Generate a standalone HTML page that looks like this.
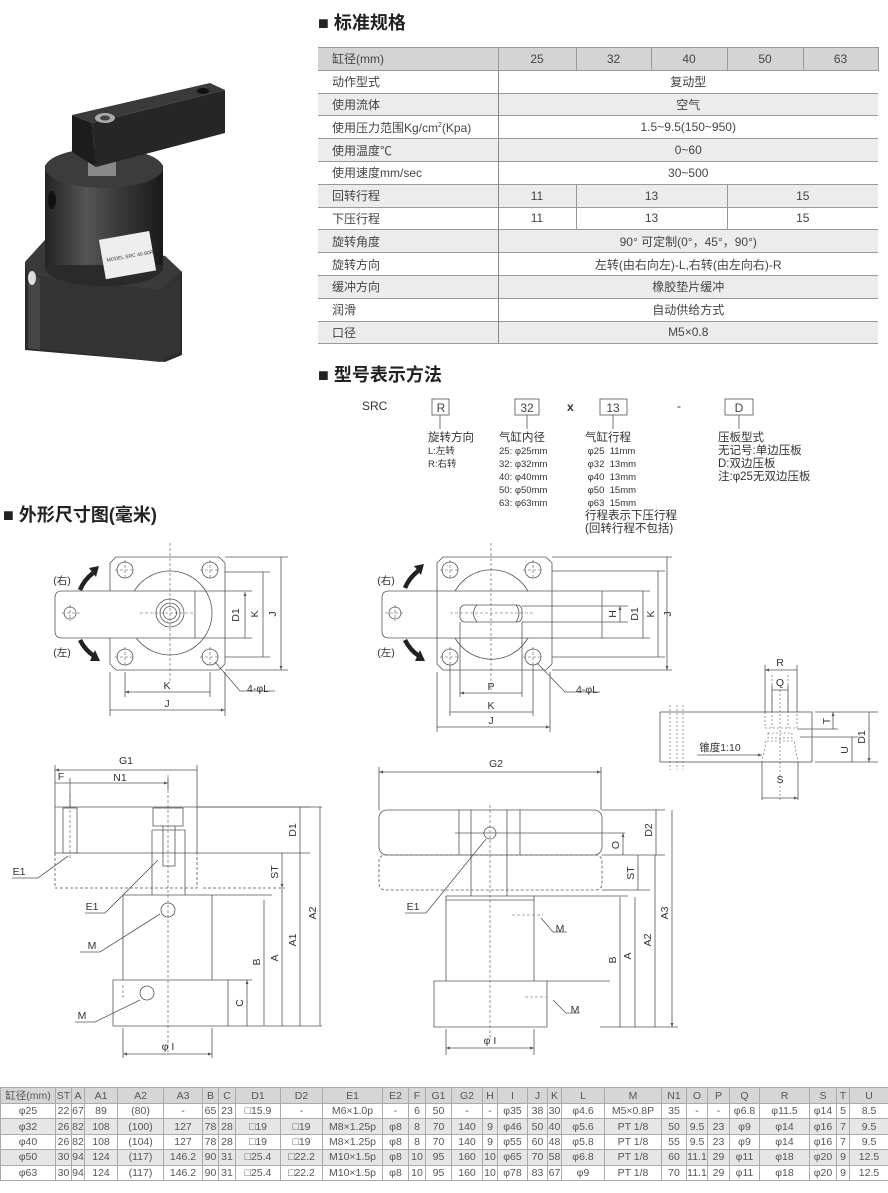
<!DOCTYPE html>
<html><head><meta charset="utf-8">
<style>
body{margin:0;background:#fff;width:888px;height:1193px;position:relative;overflow:hidden;font-family:"Liberation Sans","Noto Sans CJK SC",sans-serif;color:#444}
.h{position:absolute;font-weight:bold;font-size:18px;color:#222;font-family:"Liberation Sans","Noto Sans CJK SC",sans-serif}
table{border-collapse:collapse;position:absolute;table-layout:fixed}
#spec{left:318px;top:47px;width:560px;font-size:12px}
#spec td{height:21.8px;padding:0;border-top:1px solid #999;text-align:center;color:#444;white-space:nowrap}
#spec td.l{text-align:left;padding-left:14px;border-right:1px solid #888}
#spec tr.g td{background:#ececec}
#spec tr.hd td{background:#d4d4d4;border-right:1px solid #999}
#spec tr:last-child td{border-bottom:1px solid #999}
#dim{left:0;top:1087px;width:888px;font-size:10.5px}
#dim td{height:14.4px;padding:0;border:1px solid #aaa;text-align:center;color:#555;white-space:nowrap;overflow:hidden}
#dim tr.g td{background:#e6e6e6}
#dim tr.hd td{background:#d6d6d6}
.m{position:absolute;font-size:9.5px;line-height:13px;color:#333;white-space:nowrap}
.m b{font-weight:normal;font-size:11.5px}
</style></head><body>

<div class="h" style="left:318px;top:9px">■ 标准规格</div>
<div class="h" style="left:318px;top:361px">■ 型号表示方法</div>
<div class="h" style="left:3px;top:501px">■ 外形尺寸图(毫米)</div>

<table id="spec">
<colgroup><col style="width:180px"><col style="width:78px"><col style="width:75px"><col style="width:76px"><col style="width:76px"><col style="width:75px"></colgroup>
<tr class="hd"><td class="l">缸径(mm)</td><td>25</td><td>32</td><td>40</td><td>50</td><td>63</td></tr>
<tr><td class="l">动作型式</td><td colspan="5">复动型</td></tr>
<tr class="g"><td class="l">使用流体</td><td colspan="5">空气</td></tr>
<tr><td class="l">使用压力范围Kg/cm<sup style="font-size:7px">2</sup>(Kpa)</td><td colspan="5">1.5~9.5(150~950)</td></tr>
<tr class="g"><td class="l">使用温度℃</td><td colspan="5">0~60</td></tr>
<tr><td class="l">使用速度mm/sec</td><td colspan="5">30~500</td></tr>
<tr class="g"><td class="l">回转行程</td><td style="border-right:1px solid #999">11</td><td colspan="2" style="border-right:1px solid #999">13</td><td colspan="2">15</td></tr>
<tr><td class="l">下压行程</td><td style="border-right:1px solid #999">11</td><td colspan="2" style="border-right:1px solid #999">13</td><td colspan="2">15</td></tr>
<tr class="g"><td class="l">旋转角度</td><td colspan="5">90° 可定制(0°，45°，90°)</td></tr>
<tr><td class="l">旋转方向</td><td colspan="5">左转(由右向左)-L,右转(由左向右)-R</td></tr>
<tr class="g"><td class="l">缓冲方向</td><td colspan="5">橡胶垫片缓冲</td></tr>
<tr><td class="l">润滑</td><td colspan="5">自动供给方式</td></tr>
<tr class="g"><td class="l">口径</td><td colspan="5">M5×0.8</td></tr>
</table>

<div class="m" style="left:362px;top:400px;font-size:12px">SRC</div>
<div class="m" style="left:567px;top:401px;font-size:12px;font-weight:bold">x</div>
<div class="m" style="left:677px;top:400px;font-size:12px">-</div>
<div class="m" style="left:428px;top:432px"><b>旋转方向</b><br>L:左转<br>R:右转</div>
<div class="m" style="left:499px;top:432px"><b>气缸内径</b><br>25: φ25mm<br>32: φ32mm<br>40: φ40mm<br>50: φ50mm<br>63: φ63mm</div>
<div class="m" style="left:585px;top:432px"><b>气缸行程</b><br>&nbsp;φ25&nbsp; 11mm<br>&nbsp;φ32&nbsp; 13mm<br>&nbsp;φ40&nbsp; 13mm<br>&nbsp;φ50&nbsp; 15mm<br>&nbsp;φ63&nbsp; 15mm<br><b>行程表示下压行程</b><br><b>(回转行程不包括)</b></div>
<div class="m" style="left:718px;top:432px;line-height:13px"><b>压板型式</b><br><b>无记号:单边压板</b><br><b>D:双边压板</b><br><b>注:φ25无双边压板</b></div>

<svg width="888" height="1193" style="position:absolute;left:0;top:0" xmlns="http://www.w3.org/2000/svg" font-family="Liberation Sans, Noto Sans CJK SC, sans-serif">
<defs>
<linearGradient id="cyl" x1="0" x2="1"><stop offset="0" stop-color="#222"/><stop offset=".35" stop-color="#555"/><stop offset=".7" stop-color="#333"/><stop offset="1" stop-color="#1a1a1a"/></linearGradient>
<marker id="a" viewBox="0 0 6 6" refX="6" refY="3" markerWidth="5" markerHeight="5" orient="auto-start-reverse"><path d="M0,0.8L6,3L0,5.2z" fill="#555"/></marker>
</defs>
<g fill="none" stroke="#666" stroke-width="0.9">
<rect x="432" y="399" width="17" height="16"/><rect x="515" y="399" width="24" height="16"/><rect x="600" y="399" width="27" height="16"/><rect x="725" y="399" width="28" height="16"/>
<path d="M440 415V429M527 415V429M613 415V429M739 415V429"/>
</g>
<g font-size="12" fill="#444" text-anchor="middle"><text x="441" y="412">R</text><text x="527" y="412">32</text><text x="613" y="412">13</text><text x="739" y="412">D</text></g>

<g>
<path d="M25 262 L45 240 L165 256 L182 272 L182 355 L165 362 L25 350 Z" fill="#2a2a2a"/>
<path d="M25 262 L45 240 L165 256 L182 272 L160 290 L28 275Z" fill="#3a3a3a"/>
<path d="M28 275 L160 290 L180 272 L180 352 L160 362 L28 348Z" fill="#333"/>
<path d="M28 275 L40 278 L40 350 L28 348Z" fill="#444"/>
<ellipse cx="32" cy="278" rx="4" ry="7" fill="#ddd"/>
<rect x="45" y="165" width="118" height="105" fill="url(#cyl)"/>
<ellipse cx="104" cy="268" rx="59" ry="18" fill="#2a2a2a"/>
<rect x="45" y="165" width="118" height="100" fill="url(#cyl)"/>
<ellipse cx="104" cy="168" rx="59" ry="20" fill="#3c3c3c"/>
<ellipse cx="52" cy="200" rx="4" ry="9" fill="#111"/>
<rect x="102" y="235" width="51" height="40" fill="#eee" transform="rotate(-10 128 255)"/>
<text x="106" y="258" font-size="5" fill="#333" transform="rotate(-10 128 255)">MODEL SRC 40-90R</text>
<rect x="88" y="162" width="28" height="14" fill="#888"/>
<path d="M72 115 L210 83 L225 90 L92 123 Z" fill="#3a3a3a"/>
<path d="M92 123 L225 90 L225 133 L96 167 Z" fill="#262626"/>
<path d="M72 115 L92 123 L96 167 L72 152 Z" fill="#1c1c1c"/>
<ellipse cx="105" cy="118" rx="10" ry="5" fill="#aaa"/><ellipse cx="105" cy="118" rx="5" ry="2.5" fill="#444"/>
<ellipse cx="203" cy="91" rx="6" ry="3" fill="#111"/>
</g>

<g fill="none" stroke="#555" stroke-width="0.8">
<path d="M116 557H219L225 563V664L219 670H116L110 664V563Z"/>
<circle cx="170" cy="613" r="42"/>
<path d="M62 591H195V638H62Q55 638 55 631V598Q55 591 62 591Z" fill="#fff"/>
<circle cx="70" cy="613" r="6"/><circle cx="170" cy="613" r="14"/><circle cx="170" cy="613" r="10"/><circle cx="170" cy="613" r="6.5"/>
<circle cx="125" cy="570" r="8"/><circle cx="210" cy="570" r="8"/><circle cx="125" cy="657" r="8"/><circle cx="210" cy="657" r="8"/>
<g stroke-dasharray="3,2" stroke-width="0.6">
<path d="M170 543V683M140 613H195M62 613H80M70 605V621M115 570H135M125 560V580M200 570H220M210 560V580M115 657H135M125 647V667M200 657H220M210 647V667"/></g>
<path d="M195 591H252M195 638H252M225 572H270M225 657H270M225 557H288M225 670H288"/>
<path d="M245 592V638M263 572V657M281 557V670" marker-start="url(#a)" marker-end="url(#a)"/>
<path d="M110 672V716M125 672V697M210 672V697M225 672V716"/>
<path d="M125 692H210M110 710H225" marker-start="url(#a)" marker-end="url(#a)"/>
<path d="M215 662L240 691H275"/>
<path d="M443 557H546L552 563V664L546 670H443L437 664V563Z"/>
<path d="M455 591A42 42 0 0 1 528 591M455 638A42 42 0 0 0 528 638"/>
<path d="M389 591H602V638H389Q382 638 382 631V598Q382 591 389 591Z"/>
<rect x="460" y="605" width="62" height="17" rx="5"/><path d="M477 605Q470 613 477 622M516 605Q522 613 516 622"/>
<circle cx="395" cy="613" r="6"/>
<circle cx="450" cy="570" r="8"/><circle cx="533" cy="570" r="8"/><circle cx="450" cy="657" r="8"/><circle cx="533" cy="657" r="8"/>
<g stroke-dasharray="3,2" stroke-width="0.6">
<path d="M491 543V690M450 613H535M385 613H405M395 605V621M440 570H460M450 560V580M523 570H543M533 560V580M440 657H460M450 647V667M523 657H543M533 647V667"/></g>
<path d="M522 606H628M522 622H628M602 591H650M602 638H650M552 571H665M552 657H665M552 557H672M552 670H672"/>
<path d="M620 606V622M643 591V638M658 571V657M667 557V670" marker-start="url(#a)" marker-end="url(#a)"/>
<path d="M460 622V697M522 622V697M450 665V716M533 665V716M437 672V732M550 672V732"/>
<path d="M460 693H522M450 712H533M437 727H550" marker-start="url(#a)" marker-end="url(#a)"/>
<path d="M537 663L565 692H600"/>
<rect x="660" y="712" width="152" height="50"/>
<g stroke-dasharray="2,2" stroke-width="0.6"><path d="M670 705V770M677 705V770M683 705V770M772 675V728M788 675V728M780 690V800M765 712V728H797V712M768 733H792V738H768ZM766 741L762 762H798L794 741Z"/></g>
<path d="M765 665V712M797 665V712M772 685V712M788 685V712M762 762V800M798 762V800"/>
<path d="M765 670H797M772 690H788M762 798H798" marker-start="url(#a)" marker-end="url(#a)"/>
<path d="M815 712H878M797 729H838M800 737H858M815 762H878"/>
<path d="M833 712V729M852 737V762M869 712V762" marker-start="url(#a)" marker-end="url(#a)"/>
<path d="M697 755H762" marker-end="url(#a)"/>
<path d="M55 765V807M197 765V807M70 778V807M168 778V790"/>
<path d="M55 770H197M55 783H70M70 783H168" marker-start="url(#a)" marker-end="url(#a)"/>
<path d="M55 807H310M55 807V853M197 807V853M55 853H310"/>
<rect x="63" y="808" width="14" height="45"/>
<g stroke-dasharray="3,2"><path d="M55 853V888H197V853M203 888H285"/></g>
<rect x="153" y="808" width="30" height="18"/><path d="M152 830H185V895M152 830V895M163 826V866H175V826"/>
<path d="M123 895H212V980M123 895V980M113 980H228V1026H113Z"/>
<g stroke-dasharray="3,2" stroke-width="0.6"><path d="M168 775V1052M70 795V860M123 985V1000"/></g>
<circle cx="168" cy="910" r="7"/><circle cx="147" cy="993" r="7"/>
<path d="M212 895H272M228 980H252M228 1026H322M197 807H322"/>
<path d="M247 980V1026M264 900V1026M282 888V1026M300 853V1026M300 807V853M320 807V1026M282 853V888" marker-start="url(#a)" marker-end="url(#a)"/>
<path d="M123 1028V1058M212 1028V1058"/>
<path d="M123 1054H212" marker-start="url(#a)" marker-end="url(#a)"/>
<path d="M12 878H38L68 856M85 913H105L158 860M80 952H100L160 914M75 1022H95L140 1000"/>
<path d="M379 767V810M601 767V810"/>
<path d="M379 772H601" marker-start="url(#a)" marker-end="url(#a)"/>
<rect x="379" y="810" width="223" height="45" rx="8"/>
<path d="M459 810V855M471 810V896M507 810V896M520 810V855M455 833H625"/>
<g stroke-dasharray="3,2"><rect x="379" y="855" width="223" height="35" rx="6"/></g>
<circle cx="490" cy="833" r="6"/>
<path d="M446 896H534V981M446 896V981M446 900H534M434 981H547V1027H434Z"/>
<g stroke-dasharray="3,2" stroke-width="0.6"><path d="M490 805V1040M512 915H543M525 997H547"/></g>
<path d="M602 810H665M602 855H665M534 896H628M547 981H610M600 1027H678M602 890H650"/>
<path d="M623 833V855M656 810V855M638 855V890M620 897V1027M635 897V1027M655 855V1027M672 810V1027" marker-start="url(#a)" marker-end="url(#a)"/>
<path d="M446 1029V1055M534 1029V1055"/>
<path d="M446 1048H534" marker-start="url(#a)" marker-end="url(#a)"/>
<path d="M405 913H426L486 839M541 918L553 932H567M553 1000L566 1013H580"/>
</g>
<g stroke="#222" stroke-width="4.5" fill="none">
<path d="M80 590Q84 580 93 573"/><path d="M80 640Q85 650 94 656"/>
<path d="M405 588Q409 578 418 571"/><path d="M405 640Q410 650 419 656"/>
</g>
<g fill="#222"><path d="M89 568L99 566L96 577Z"/><path d="M90 661L100 661L95 650Z"/><path d="M414 566L424 564L421 575Z"/><path d="M415 661L425 661L420 650Z"/></g>

<g font-size="10.5" fill="#333" text-anchor="middle">
<text x="62" y="584">(右)</text><text x="62" y="656">(左)</text>
<text x="386" y="584">(右)</text><text x="386" y="656">(左)</text>
<text x="167" y="689">K</text><text x="167" y="707">J</text><text x="258" y="692">4-φL</text>
<text x="491" y="690">P</text><text x="491" y="709">K</text><text x="491" y="724">J</text><text x="587" y="693">4-φL</text>
<text x="780" y="666">R</text><text x="780" y="686">Q</text><text x="780" y="783">S</text>
<text x="720" y="751">锥度1:10</text>
<text x="126" y="764">G1</text><text x="61" y="780">F</text><text x="120" y="781">N1</text>
<text x="19" y="875">E1</text><text x="92" y="910">E1</text><text x="92" y="949">M</text><text x="82" y="1019">M</text>
<text x="168" y="1050">φ I</text>
<text x="496" y="767">G2</text><text x="413" y="910">E1</text><text x="560" y="932">M</text><text x="575" y="1013">M</text>
<text x="490" y="1044">φ I</text>
</g>
<g font-size="10.5" fill="#333" text-anchor="middle">
<text transform="translate(239,615) rotate(-90)">D1</text><text transform="translate(258,614) rotate(-90)">K</text><text transform="translate(276,614) rotate(-90)">J</text>
<text transform="translate(616,614) rotate(-90)">H</text><text transform="translate(638,614) rotate(-90)">D1</text><text transform="translate(654,614) rotate(-90)">K</text><text transform="translate(671,614) rotate(-90)">J</text>
<text transform="translate(830,721) rotate(-90)">T</text><text transform="translate(848,750) rotate(-90)">U</text><text transform="translate(865,737) rotate(-90)">D1</text>
<text transform="translate(243,1003) rotate(-90)">C</text><text transform="translate(260,962) rotate(-90)">B</text><text transform="translate(278,958) rotate(-90)">A</text><text transform="translate(296,940) rotate(-90)">A1</text><text transform="translate(316,913) rotate(-90)">A2</text><text transform="translate(296,830) rotate(-90)">D1</text><text transform="translate(278,872) rotate(-90)">ST</text>
<text transform="translate(619,845) rotate(-90)">O</text><text transform="translate(652,830) rotate(-90)">D2</text><text transform="translate(634,873) rotate(-90)">ST</text><text transform="translate(616,960) rotate(-90)">B</text><text transform="translate(631,956) rotate(-90)">A</text><text transform="translate(651,940) rotate(-90)">A2</text><text transform="translate(668,913) rotate(-90)">A3</text>
</g>
</svg>

<table id="dim">
<colgroup><col style="width:55px"><col style="width:16px"><col style="width:13px"><col style="width:33px"><col style="width:46px"><col style="width:39px"><col style="width:16px"><col style="width:17px"><col style="width:45px"><col style="width:42px"><col style="width:60px"><col style="width:26px"><col style="width:17px"><col style="width:26px"><col style="width:31px"><col style="width:15px"><col style="width:30px"><col style="width:20px"><col style="width:14px"><col style="width:43px"><col style="width:57px"><col style="width:25px"><col style="width:21px"><col style="width:22px"><col style="width:30px"><col style="width:50px"><col style="width:27px"><col style="width:13px"><col style="width:39px"></colgroup>
<tr class="hd"><td>缸径(mm)</td><td>ST</td><td>A</td><td>A1</td><td>A2</td><td>A3</td><td>B</td><td>C</td><td>D1</td><td>D2</td><td>E1</td><td>E2</td><td>F</td><td>G1</td><td>G2</td><td>H</td><td>I</td><td>J</td><td>K</td><td>L</td><td>M</td><td>N1</td><td>O</td><td>P</td><td>Q</td><td>R</td><td>S</td><td>T</td><td>U</td></tr>
<tr><td>φ25</td><td>22</td><td>67</td><td>89</td><td>(80)</td><td>-</td><td>65</td><td>23</td><td>□15.9</td><td>-</td><td>M6×1.0p</td><td>-</td><td>6</td><td>50</td><td>-</td><td>-</td><td>φ35</td><td>38</td><td>30</td><td>φ4.6</td><td>M5×0.8P</td><td>35</td><td>-</td><td>-</td><td>φ6.8</td><td>φ11.5</td><td>φ14</td><td>5</td><td>8.5</td></tr>
<tr class="g"><td>φ32</td><td>26</td><td>82</td><td>108</td><td>(100)</td><td>127</td><td>78</td><td>28</td><td>□19</td><td>□19</td><td>M8×1.25p</td><td>φ8</td><td>8</td><td>70</td><td>140</td><td>9</td><td>φ46</td><td>50</td><td>40</td><td>φ5.6</td><td>PT 1/8</td><td>50</td><td>9.5</td><td>23</td><td>φ9</td><td>φ14</td><td>φ16</td><td>7</td><td>9.5</td></tr>
<tr><td>φ40</td><td>26</td><td>82</td><td>108</td><td>(104)</td><td>127</td><td>78</td><td>28</td><td>□19</td><td>□19</td><td>M8×1.25p</td><td>φ8</td><td>8</td><td>70</td><td>140</td><td>9</td><td>φ55</td><td>60</td><td>48</td><td>φ5.8</td><td>PT 1/8</td><td>55</td><td>9.5</td><td>23</td><td>φ9</td><td>φ14</td><td>φ16</td><td>7</td><td>9.5</td></tr>
<tr class="g"><td>φ50</td><td>30</td><td>94</td><td>124</td><td>(117)</td><td>146.2</td><td>90</td><td>31</td><td>□25.4</td><td>□22.2</td><td>M10×1.5p</td><td>φ8</td><td>10</td><td>95</td><td>160</td><td>10</td><td>φ65</td><td>70</td><td>58</td><td>φ6.8</td><td>PT 1/8</td><td>60</td><td>11.1</td><td>29</td><td>φ11</td><td>φ18</td><td>φ20</td><td>9</td><td>12.5</td></tr>
<tr><td>φ63</td><td>30</td><td>94</td><td>124</td><td>(117)</td><td>146.2</td><td>90</td><td>31</td><td>□25.4</td><td>□22.2</td><td>M10×1.5p</td><td>φ8</td><td>10</td><td>95</td><td>160</td><td>10</td><td>φ78</td><td>83</td><td>67</td><td>φ9</td><td>PT 1/8</td><td>70</td><td>11.1</td><td>29</td><td>φ11</td><td>φ18</td><td>φ20</td><td>9</td><td>12.5</td></tr>
</table>
</body></html>
